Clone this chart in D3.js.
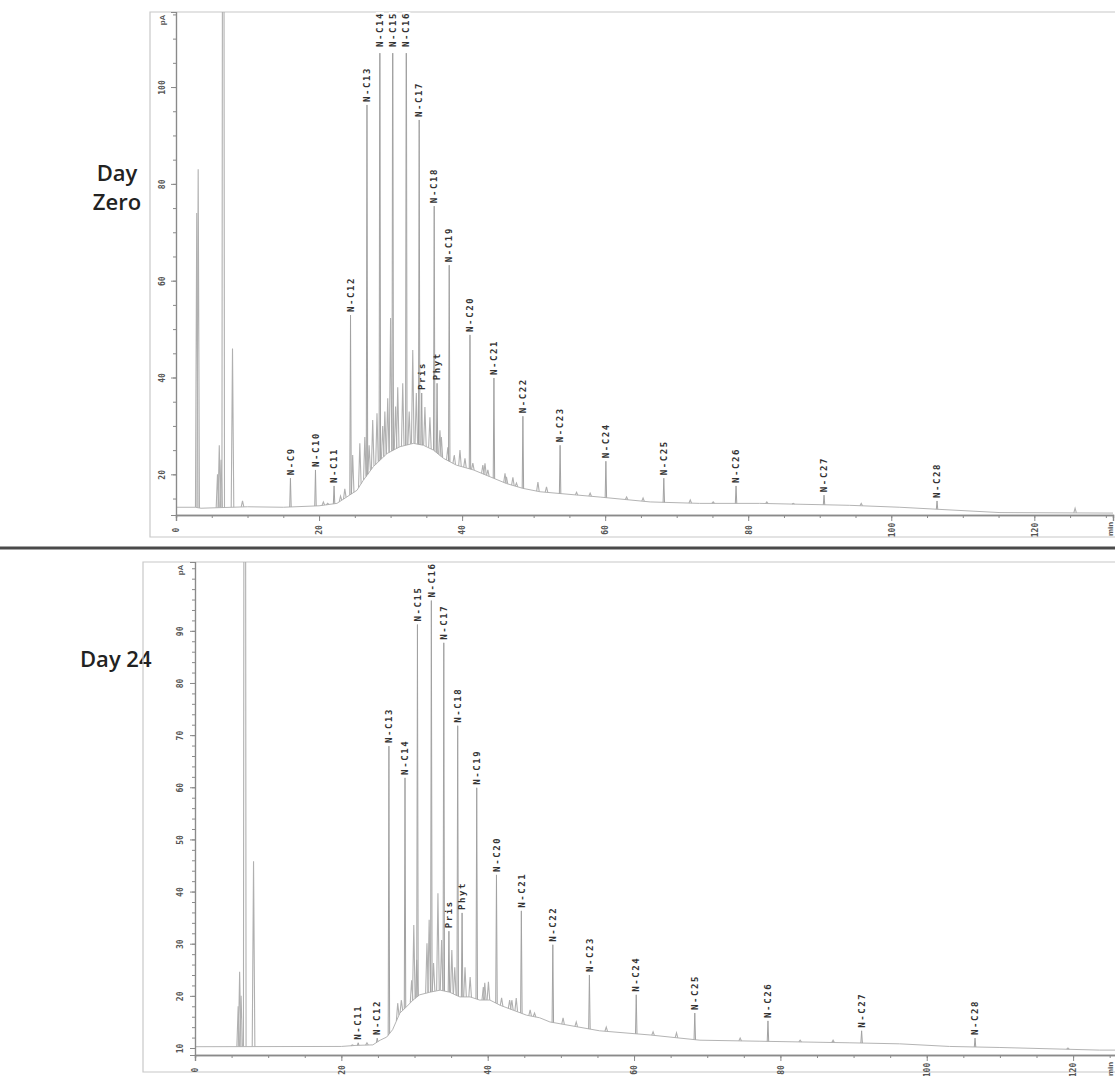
<!DOCTYPE html>
<html>
<head>
<meta charset="utf-8">
<script src="https://cdn.jsdelivr.net/npm/d3@7"></script>
<style>
  body { margin: 0; background: #fff; }
  svg { display: block; }
</style>
</head>
<body>
<script>
var width = 1115,
  height = 1076;

// ---- shared ----
var xTicks = [0, 20, 40, 60, 80, 100, 120];

// ---- Day zero ----
var zeroNames = ["N-C9", "N-C10", "N-C11", "N-C12", "N-C13", "N-C14", "N-C15", "N-C16", "N-C17", "Pris", "N-C18", "Phyt",
  "N-C19", "N-C20", "N-C21", "N-C22", "N-C23", "N-C24", "N-C25", "N-C26", "N-C27", "N-C28"];
var zeroTimes = [16.0, 19.5, 22.1, 24.4, 26.7, 28.5, 30.3, 32.2, 34.0, 34.35, 36.1, 36.5,
  38.2, 41.1, 44.45, 48.5, 53.7, 60.1, 68.2, 78.3, 90.6, 106.4];
var zeroHeights = [19.2, 20.9, 17.6, 52.9, 96.3, 130, 130, 130, 93.2, 36.8, 75.4, 38.8,
  63.2, 48.8, 39.9, 32.0, 26.0, 22.7, 19.2, 17.6, 15.7, 14.5];
// unlabelled peaks (solvent front + unresolved "grass")
var zeroMinorTimes = [2.9, 3.1, 5.8, 6.05, 6.3, 6.6, 7.9, 9.3, 20.6, 21.2, 23.0, 23.6,
  24.7, 25.7, 26.4, 27.0, 27.5, 28.1, 28.9, 29.2, 29.6, 30.0, 30.7, 31.0, 31.7, 32.6, 33.1, 33.6,
  34.8, 35.5, 36.9, 37.1, 38.0, 38.9, 39.7, 40.4, 41.5, 42.9, 43.2, 43.6, 46.0, 46.2, 47.1, 47.6,
  50.6, 51.8, 56.0, 57.9, 63.0, 65.3, 71.9, 75.1, 82.6, 86.3, 95.8, 125.7];
var zeroMinorHeights = [74, 83, 20, 26, 23, 300, 46, 14.5, 14.3, 14.0, 15.5, 17,
  24, 26.4, 27.7, 26, 31.2, 32.6, 30, 33, 35.7, 52.3, 34, 38, 38.8, 33, 45.7, 36.8,
  33.9, 31.8, 29.1, 27.7, 25.6, 24, 25, 23.3, 22.3, 21.9, 22.3, 20.9, 20.2, 19.5, 19.4, 18.2,
  18.4, 17.4, 16.3, 16.1, 15.3, 15.1, 14.7, 14.3, 14.3, 14.0, 14.0, 13.0];
// baseline / unresolved hump
var zeroBaseTimes = [0, 2.7, 3.5, 10, 15, 20, 22.5, 23.9, 25.3, 26.2, 27.6, 29.5, 31.3, 33.2, 34.6, 36.0,
  37.4, 39.2, 41.6, 43.9, 46.2, 48.5, 50.9, 59.3, 66.3, 73.2, 81.6, 94.2, 101.2, 115.2, 131];
var zeroBaseValues = [13.2, 13.2, 13.0, 13.3, 13.2, 13.5, 14.0, 15.35, 16.7, 18.8, 21.6, 24.3, 25.7, 26.4, 26.0, 25.0,
  23.3, 21.9, 20.9, 19.5, 18.1, 17.1, 16.4, 15.3, 14.3, 14.0, 14.0, 13.6, 13.2, 12.1, 12.0];
var zeroYTicks = [20, 40, 60, 80, 100];

// ---- Day 24 ----
var d24Names = ["N-C11", "N-C12", "N-C13", "N-C14", "N-C15", "N-C16", "N-C17", "Pris", "N-C18", "Phyt",
  "N-C19", "N-C20", "N-C21", "N-C22", "N-C23", "N-C24", "N-C25", "N-C26", "N-C27", "N-C28"];
var d24Times = [22.3, 24.9, 26.5, 28.7, 30.4, 32.3, 34.0, 34.7, 35.9, 36.5,
  38.5, 41.2, 44.6, 48.9, 53.9, 60.3, 68.3, 78.3, 91.1, 106.6];
var d24Heights = [11.0, 11.9, 67.9, 61.8, 91.2, 95.8, 87.7, 32.4, 71.8, 35.9,
  59.9, 43.2, 36.3, 29.8, 24.0, 20.2, 16.7, 15.2, 13.3, 11.9];
var d24MinorTimes = [5.9, 6.1, 6.3, 6.8, 8.0, 21.5, 23.5,
  27.7, 28.2, 29.6, 29.9, 30.3, 31.7, 32.0, 32.6, 33.2, 33.7, 35.1, 35.5, 36.9, 37.6, 39.4, 39.6, 40.1,
  41.9, 43.0, 43.3, 43.9, 45.8, 46.4, 50.3, 52.1, 56.2, 62.6, 65.8, 74.5, 82.7, 87.2, 119.3];
var d24MinorHeights = [18, 24.6, 20, 300, 45.8, 10.6, 11.0,
  18.6, 19.2, 23, 33.6, 26.9, 30.1, 34.6, 26.3, 39.7, 30.7, 28.8, 25.5, 25.5, 23.6, 21.7, 22.5, 22.7,
  19.6, 19.2, 19.2, 19.6, 17.3, 16.7, 15.8, 15.0, 14.0, 13.1, 12.9, 11.9, 11.5, 11.5, 10.0];
var d24BaseTimes = [0, 20, 22, 24.3, 25.3, 26.2, 27.0, 28.0, 28.9, 29.8, 30.7, 32.1, 33.5, 34.8, 36.2, 37.6,
  38.9, 40.3, 41.7, 43.4, 45.3, 47.1, 48.5, 55.3, 62.2, 69.0, 77.2, 89.5, 96.3, 103.1, 110, 123.6, 127];
var d24BaseValues = [10.25, 10.3, 10.5, 10.6, 11.5, 12.1, 13.5, 16.7, 17.9, 19.2, 20.2, 20.7, 21.1, 20.7, 19.8, 19.8,
  19.2, 19.2, 18.2, 17.3, 16.3, 15.8, 15.0, 13.3, 12.5, 11.5, 11.3, 11.0, 10.8, 10.3, 10.1, 9.6, 9.6];
var d24YTicks = [10, 20, 30, 40, 50, 60, 70, 80, 90];

var svg = d3
  .select("body")
  .append("svg")
  .attr("width", width)
  .attr("height", height)
  .style("font-family", "'DejaVu Sans Mono', monospace");

// left captions
var caption = svg
  .append("g")
  .style("font-family", "'Open Sans', sans-serif")
  .style("font-size", "22px")
  .style("font-weight", 600)
  .attr("fill", "#222");
caption.append("text").attr("x", 117).attr("y", 181).attr("text-anchor", "middle").text("Day");
caption.append("text").attr("x", 117).attr("y", 210).attr("text-anchor", "middle").text("Zero");
caption.append("text").attr("x", 80).attr("y", 667).text("Day 24");

// separator between the two runs
svg
  .append("line")
  .attr("x1", 0)
  .attr("x2", width)
  .attr("y1", 548)
  .attr("y2", 548)
  .attr("stroke", "#4a4a4a")
  .attr("stroke-width", 3);

drawPanel({
  id: "zero",
  names: zeroNames, times: zeroTimes, heights: zeroHeights,
  minorTimes: zeroMinorTimes, minorHeights: zeroMinorHeights,
  baseTimes: zeroBaseTimes, baseValues: zeroBaseValues,
  yTicks: zeroYTicks, yMinorStep: 5,
  xDomain: [0, 131], xRange: [176, 1113],
  yDomain: [11.6, 115.5], yRange: [515, 12],
  frame: { left: 150, top: 12, bottom: 537 },
  yLabelX: 162
});

drawPanel({
  id: "d24",
  names: d24Names, times: d24Times, heights: d24Heights,
  minorTimes: d24MinorTimes, minorHeights: d24MinorHeights,
  baseTimes: d24BaseTimes, baseValues: d24BaseValues,
  yTicks: d24YTicks, yMinorStep: 2,
  xDomain: [0, 126], xRange: [195, 1117],
  yDomain: [8.66, 103.2], yRange: [1055, 562],
  frame: { left: 143, top: 562, bottom: 1072 },
  yLabelX: 180
});

function drawPanel(p) {
  var x = d3.scaleLinear().domain(p.xDomain).range(p.xRange);
  var y = d3.scaleLinear().domain(p.yDomain).range(p.yRange);
  var base = d3.scaleLinear().domain(p.baseTimes).range(p.baseValues).clamp(true);
  var x0 = p.xRange[0], axisY = p.yRange[0], topY = p.yRange[1];

  // frame
  var f = p.frame;
  svg.append("path")
    .attr("d", "M" + width + "," + f.top + "H" + f.left + "V" + f.bottom + "H" + width)
    .attr("fill", "none")
    .attr("stroke", "#c8c8c8")
    .attr("stroke-width", 1.2);

  svg.append("clipPath").attr("id", "clip-" + p.id)
    .append("rect")
    .attr("x", x0).attr("y", topY)
    .attr("width", width - x0).attr("height", axisY - topY);

  var plot = svg.append("g").attr("clip-path", "url(#clip-" + p.id + ")");

  var line = d3.line().x(function (d) { return x(d[0]); }).y(function (d) { return y(d[1]); });

  // baseline trace
  plot.append("path")
    .datum(p.baseTimes.map(function (t, i) { return [t, p.baseValues[i]]; }))
    .attr("d", line)
    .attr("fill", "none")
    .attr("stroke", "#b4b4b4")
    .attr("stroke-width", 1);

  function spike(t, h, w) {
    return [[t - w, base(t - w)], [t, h], [t + w, base(t + w)]];
  }

  // unlabelled peaks
  plot.append("g").selectAll("path")
    .data(p.minorTimes.map(function (t, i) { return spike(t, p.minorHeights[i], 0.18); }))
    .enter().append("path")
    .attr("d", line)
    .attr("fill", "none")
    .attr("stroke", "#b0b0b0")
    .attr("stroke-width", 1.1);

  // labelled peaks
  var peaks = p.names.map(function (n, i) {
    return { name: n, t: p.times[i], h: p.heights[i] };
  });
  plot.append("g").selectAll("path")
    .data(peaks)
    .enter().append("path")
    .attr("d", function (d) { return line(spike(d.t, d.h, 0.1)); })
    .attr("fill", "none")
    .attr("stroke", "#a2a2a2")
    .attr("stroke-width", 1);

  // peak labels (rotated)
  var lab = svg.append("g").selectAll("g")
    .data(peaks)
    .enter().append("g")
    .attr("transform", function (d) {
      var clipped = d.h > p.yDomain[1];
      var py = clipped ? topY : y(d.h) - 3;
      return "translate(" + x(d.t) + "," + py + ") rotate(-90)";
    });
  lab.each(function (d) {
    var g = d3.select(this);
    var clipped = d.h > p.yDomain[1];
    var txt = g.append("text")
      .attr("dy", "0.35em")
      .attr("text-anchor", clipped ? "end" : "start")
      .style("font-size", "9px")
      .style("font-weight", "bold")
      .style("letter-spacing", "1.6px")
      .attr("fill", "#333")
      .text(d.name);
    if (clipped) {
      var len = txt.node().getComputedTextLength() + 6;
      g.insert("rect", "text")
        .attr("x", -len).attr("y", -4)
        .attr("width", len).attr("height", 8)
        .attr("fill", "#fff");
    }
  });

  // x axis
  var gx = svg.append("g").attr("transform", "translate(0," + axisY + ")");
  gx.call(d3.axisBottom(x).tickValues(d3.range(0, p.xDomain[1], 5)).tickSize(3).tickFormat(""));
  gx.append("g").call(d3.axisBottom(x).tickValues(xTicks).tickSize(6).tickFormat(d3.format("d")));
  gx.selectAll(".domain").attr("stroke", "#8a8a8a").attr("stroke-width", 1.4);
  gx.selectAll(".tick line").attr("stroke", "#8a8a8a");
  gx.selectAll(".tick text")
    .attr("y", 0)
    .attr("dy", "0.35em")
    .attr("transform", "translate(0,15) rotate(-90)")
    .attr("text-anchor", "middle")
    .attr("fill", "#555")
    .style("font-size", "8px")
    .style("font-weight", "bold")
    .style("font-family", "'DejaVu Sans Mono', monospace");
  gx.append("text")
    .attr("transform", "translate(" + (width - 5) + ",14) rotate(-90)")
    .attr("dy", "0.35em")
    .attr("text-anchor", "middle")
    .attr("fill", "#555")
    .style("font-size", "8px")
    .style("font-weight", "bold")
    .text("min");

  // y axis
  var gy = svg.append("g").attr("transform", "translate(" + x0 + ",0)");
  gy.call(d3.axisLeft(y).tickValues(d3.range(p.yMinorStep * Math.ceil(p.yDomain[0] / p.yMinorStep), p.yDomain[1], p.yMinorStep)).tickSize(3).tickFormat(""));
  gy.append("g").call(d3.axisLeft(y).tickValues(p.yTicks).tickSize(5).tickFormat(d3.format("d")));
  gy.selectAll(".domain").attr("stroke", "#8a8a8a").attr("stroke-width", 1.2);
  gy.selectAll(".tick line").attr("stroke", "#8a8a8a");
  gy.selectAll(".tick text")
    .attr("x", 0)
    .attr("dy", "0.35em")
    .attr("transform", "translate(" + (p.yLabelX - x0) + ",0) rotate(-90)")
    .attr("text-anchor", "middle")
    .attr("fill", "#555")
    .style("font-size", "8px")
    .style("font-weight", "bold")
    .style("font-family", "'DejaVu Sans Mono', monospace");
  gy.append("text")
    .attr("transform", "translate(" + (p.yLabelX - x0) + "," + (topY + 8) + ") rotate(-90)")
    .attr("dy", "0.35em")
    .attr("text-anchor", "middle")
    .attr("fill", "#555")
    .style("font-size", "8px")
    .style("font-weight", "bold")
    .text("pA");
}
</script>
</body>
</html>
